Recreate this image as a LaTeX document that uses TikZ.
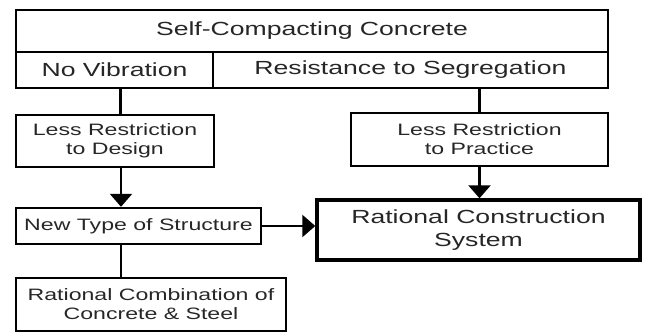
\documentclass[tikz,border=0pt]{standalone}
\usepackage{fontspec}
\setmainfont{Liberation Sans}[FakeStretch=1.4]
\usetikzlibrary{arrows.meta,positioning,calc}

\begin{document}
\begin{tikzpicture}[x=1pt, y=-1pt]
  \tikzstyle{box}=[draw, line width=2.4pt, inner sep=0pt, align=center, text=black!85]
  \tikzstyle{big}=[font=\fontsize{19}{23}\selectfont]
  \tikzstyle{small}=[font=\fontsize{16.5}{19}\selectfont]
  \tikzstyle{link}=[line width=2.4pt]
  \tikzstyle{arr}=[line width=2.4pt, -{Triangle[width=22pt, length=13pt]}]

  \useasboundingbox (0,0) rectangle (646,332);

  % Cabecera
  \node[box, big, minimum width=592pt, minimum height=42pt] (scc) at (312,31) {Self-Compacting Concrete};
  \node[box, big, minimum width=197pt, minimum height=36pt] (nv) at (114.5,70) {No Vibration};
  \node[box, big, minimum width=395pt, minimum height=36pt] (rs) at (410.5,70) {Resistance to Segregation};

  % Restricciones
  \node[box, small, minimum width=198pt, minimum height=52pt] (lrd) at (115,141) {Less Restriction\\to Design};
  \node[box, small, minimum width=257pt, minimum height=53pt] (lrp) at (479.5,139.5) {Less Restriction\\to Practice};

  % Resultados
  \node[box, small, minimum width=245pt, minimum height=36pt] (nts) at (138.5,226) {New Type of Structure};
  \node[box, big, line width=3.4pt, minimum width=323pt, minimum height=60pt] (rcs) at (478.5,230) {Rational Construction\\System};
  \node[box, small, minimum width=270pt, minimum height=53pt] (rcc) at (151,304.5) {Rational Combination of\\Concrete \& Steel};

  % Conectores
  \draw[link] ([xshift=6pt]nv.south) -- ([xshift=6pt]nv.south |- lrd.north);
  \draw[link] (rs.south -| lrp.north) -- (lrp.north);
  \draw[arr] ([xshift=6pt]lrd.south) -- ([xshift=6pt]lrd.south |- nts.north);
  \draw[arr] (lrp.south) -- (lrp.south |- rcs.north);
  \draw[arr] (nts.east) -- (nts.east -| rcs.west);
  \draw[link] ([xshift=6pt]lrd.south |- nts.south) -- ([xshift=6pt]lrd.south |- rcc.north);
\end{tikzpicture}
\end{document}
